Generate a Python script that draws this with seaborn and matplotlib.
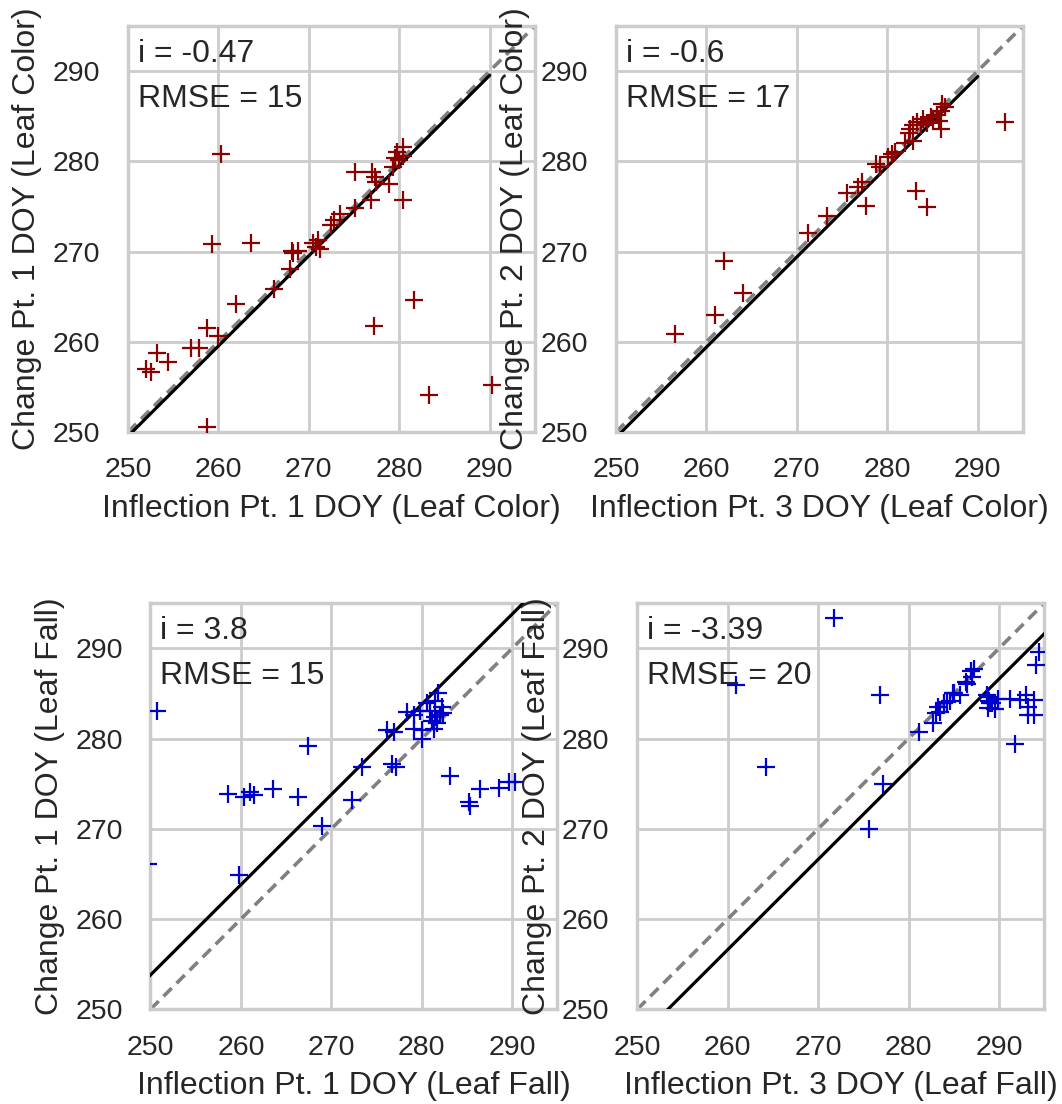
import matplotlib
matplotlib.use("Agg")
import matplotlib.pyplot as plt
import seaborn as sns

# Leaf colour: inflection pt. 1 vs change pt. 1
color_ip1 = [260.3, 259.3, 263.6, 280.4, 279.8, 280.4, 279.5, 280.0, 279.3, 275.1,
             277.0, 277.4, 277.3, 278.9, 280.4, 276.9, 275.1, 273.4, 272.8, 272.5,
             271.0, 270.8, 271.2, 270.5, 268.8, 268.1, 268.3, 267.9, 266.2, 262.0,
             258.7, 260.0, 257.0, 257.9, 253.2, 254.4, 252.0, 252.6, 258.7, 277.2,
             281.6, 283.3, 290.3]
color_cp1 = [280.8, 270.8, 270.9, 281.6, 281.0, 280.6, 280.4, 280.1, 279.4, 278.8,
             278.8, 277.7, 278.3, 277.5, 275.7, 275.7, 274.8, 274.2, 273.5, 272.9,
             271.3, 270.5, 270.3, 270.9, 270.1, 270.1, 269.8, 268.1, 265.9, 264.2,
             261.5, 260.6, 259.3, 259.3, 258.7, 257.8, 257.0, 256.7, 250.6, 261.7,
             264.6, 254.1, 255.2]

# Leaf colour: inflection pt. 3 vs change pt. 2
color_ip3 = [293.0, 286.1, 286.4, 285.9, 285.5, 284.8, 284.0, 283.3, 282.9, 282.5,
             282.4, 282.8, 282.0, 285.7, 285.9, 285.1, 284.4, 283.7, 280.9, 280.5,
             280.1, 278.7, 279.2, 277.2, 276.8, 275.5, 277.7, 273.3, 271.2, 283.2,
             284.4, 262.0, 264.1, 260.9, 256.5]
color_cp2 = [284.4, 286.4, 286.0, 285.6, 285.1, 284.9, 284.7, 284.4, 284.0, 283.6,
             283.1, 282.3, 282.0, 284.5, 283.6, 284.5, 284.2, 284.0, 281.0, 280.8,
             280.5, 279.7, 279.4, 277.7, 277.2, 276.5, 275.1, 273.9, 272.0, 276.7,
             274.9, 269.0, 265.4, 262.95, 260.9]

# Leaf fall: inflection pt. 1 vs change pt. 1
fall_ip1 = [250.7, 249.7, 267.4, 258.6, 260.3, 261.0, 261.4, 263.5, 266.3, 272.3,
            269.0, 259.8, 273.4, 276.7, 277.1, 276.1, 276.9, 278.4, 279.1, 279.1,
            280.0, 280.0, 281.8, 281.5, 282.2, 282.4, 281.5, 280.9, 280.6, 281.7,
            281.3, 279.8, 282.0, 281.1, 283.1, 285.2, 285.3, 286.4, 288.5, 289.6,
            290.3]
fall_cp1 = [283.1, 266.1, 279.2, 273.9, 273.5, 274.1, 273.8, 274.4, 273.5, 273.2,
            270.3, 264.9, 276.9, 277.2, 276.9, 280.9, 280.7, 283.0, 282.6, 281.1,
            280.9, 280.0, 285.0, 284.2, 283.5, 282.8, 282.4, 283.1, 283.9, 281.7,
            281.1, 283.1, 282.6, 282.0, 275.8, 273.0, 272.5, 274.4, 274.5, 275.2,
            275.2]

# Leaf fall: inflection pt. 3 vs change pt. 2
fall_ip3 = [271.8, 260.9, 276.8, 264.2, 277.2, 275.6, 281.1, 282.7, 283.0, 283.3,
            283.5, 283.9, 284.2, 284.6, 285.0, 285.7, 286.5, 287.0, 287.2, 291.8,
            288.8, 289.0, 289.9, 291.2, 292.3, 293.0, 293.2, 293.9, 293.2, 293.9,
            288.8, 294.1, 294.4, 286.9, 286.4, 284.9, 288.7, 288.9, 289.2, 289.6]
fall_cp2 = [293.4, 285.9, 284.8, 276.9, 275.0, 270.0, 280.7, 281.7, 282.8, 283.5,
            283.0, 283.9, 284.0, 284.2, 285.0, 284.8, 286.1, 286.8, 287.7, 279.4,
            284.6, 283.9, 284.4, 284.4, 284.3, 284.8, 283.5, 284.3, 282.6, 282.6,
            283.4, 288.1, 289.6, 287.5, 286.3, 285.0, 284.8, 284.2, 283.9, 283.3]

panels = [
    (color_ip1, color_cp1, "Inflection Pt. 1 DOY (Leaf Color)", "Change Pt. 1 DOY (Leaf Color)",
     -0.47, "-0.47", 15, (250, 290), "darkred"),
    (color_ip3, color_cp2, "Inflection Pt. 3 DOY (Leaf Color)", "Change Pt. 2 DOY (Leaf Color)",
     -0.6, "-0.6", 17, (250, 290), "darkred"),
    (fall_ip1, fall_cp1, "Inflection Pt. 1 DOY (Leaf Fall)", "Change Pt. 1 DOY (Leaf Fall)",
     3.8, "3.8", 15, (245, 300), "mediumblue"),
    (fall_ip3, fall_cp2, "Inflection Pt. 3 DOY (Leaf Fall)", "Change Pt. 2 DOY (Leaf Fall)",
     -3.39, "-3.39", 20, (245, 300), "mediumblue"),
]

# axes boxes in figure fractions (left, bottom, width, height)
boxes = [
    (0.1205, 0.6087, 0.3832, 0.3678),
    (0.5800, 0.6087, 0.3832, 0.3678),
    (0.1417, 0.0858, 0.3832, 0.3678),
    (0.6001, 0.0858, 0.3832, 0.3678),
]

sns.set_theme(style="whitegrid")
plt.rcParams['font.family'] = ['Liberation Sans', 'DejaVu Sans']
plt.rcParams['text.color'] = '.15'
plt.rcParams['xtick.major.size'] = 0
plt.rcParams['ytick.major.size'] = 0
plt.rcParams['xtick.major.pad'] = 18.3
plt.rcParams['ytick.major.pad'] = 20
plt.rcParams['xtick.labelsize'] = 20.5
plt.rcParams['ytick.labelsize'] = 20.5
plt.rcParams['xtick.color'] = '.15'
plt.rcParams['ytick.color'] = '.15'

fig = plt.figure(figsize=(10.62, 11.04), dpi=100)

for (xv, yv, xlab, ylab, icpt, itxt, rmse, lrange, col), box in zip(panels, boxes):
    ax = fig.add_axes(box)
    # 1:1 reference
    ax.plot([250, 295], [250, 295], color='gray', linestyle='--', dashes=(3.2, 1.9), linewidth=2.6, zorder=2)
    # fitted offset line
    ax.plot(list(lrange), [lrange[0] + icpt, lrange[1] + icpt], color='black', linewidth=2.3, zorder=3)
    sns.scatterplot(x=xv, y=yv, marker='+', s=150, color=col, linewidth=1.6, ax=ax, zorder=4)
    ax.set_xlim(250, 295)
    ax.set_ylim(250, 295)
    ax.set_xticks([250, 260, 270, 280, 290])
    ax.set_yticks([250, 260, 270, 280, 290])
    ax.grid(color='.8', linewidth=2)
    for s in ax.spines.values():
        s.set_color('.8')
        s.set_linewidth(2.5)
    ax.set_xlabel(xlab, fontsize=23, labelpad=7.5, color='.15')
    ax.set_ylabel(ylab, fontsize=23, labelpad=7.5, color='.15')
    ax.text(251.1, 291.0, f"i = {itxt}", fontsize=23, va='baseline', zorder=5)
    ax.text(251.1, 286.0, f"RMSE = {rmse}", fontsize=23, va='baseline', zorder=5)

plt.savefig("out.png", dpi=100)
plt.close()
